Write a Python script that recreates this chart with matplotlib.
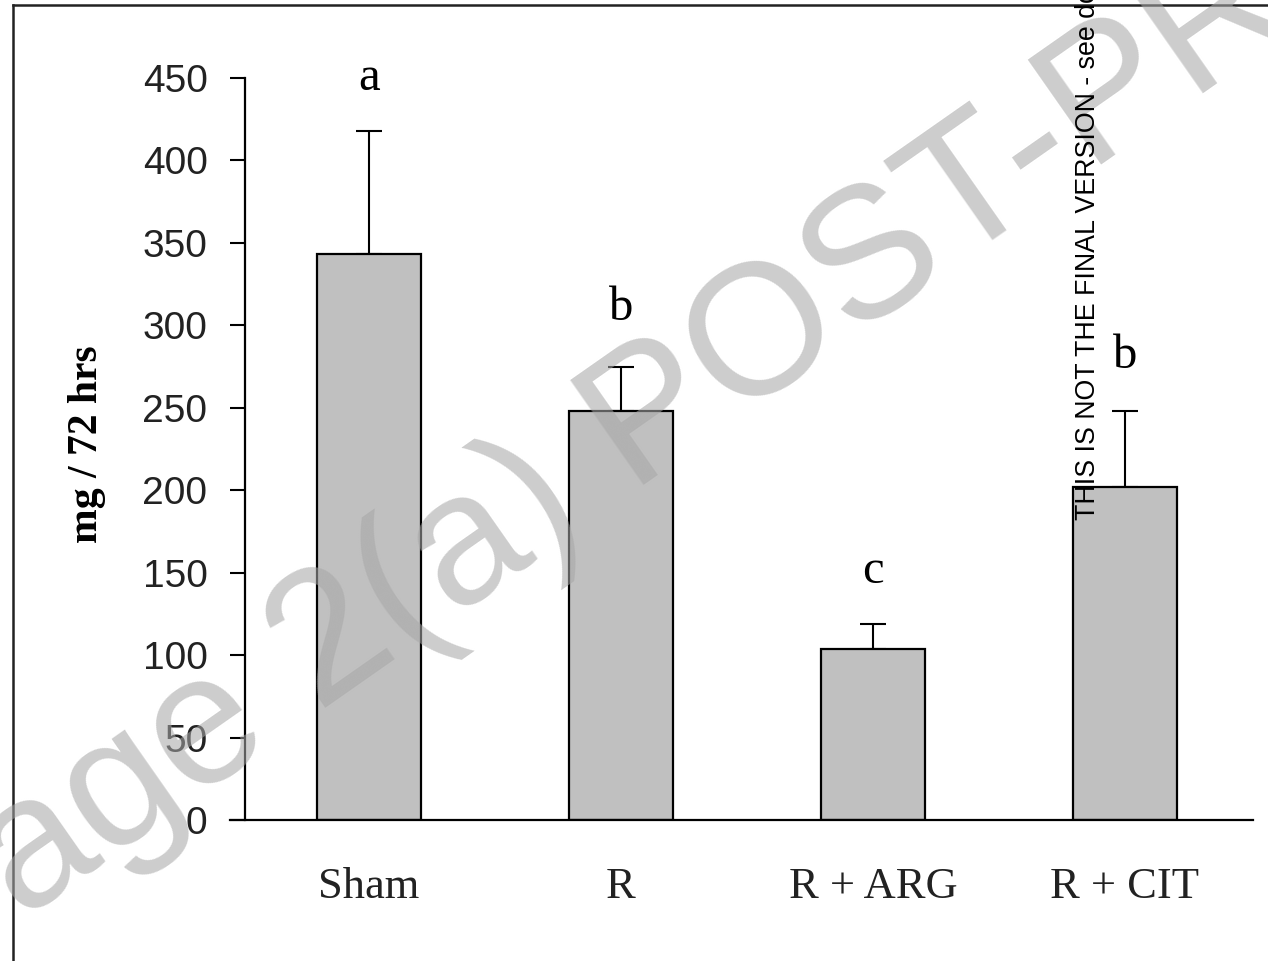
import matplotlib
matplotlib.use("Agg")
import matplotlib.pyplot as plt
from matplotlib.lines import Line2D

groups = ["Sham", "R", "R + ARG", "R + CIT"]
means = [343, 248, 104, 202]
errors = [75, 27, 15, 46]
letters = ["a", "b", "c", "b"]
letter_y = [443, 303, 144, 274]
yticks = [0, 50, 100, 150, 200, 250, 300, 350, 400, 450]

fig = plt.figure(figsize=(12.68, 9.61), dpi=100)
ax = fig.add_axes([245 / 1268, 1 - 820 / 961, (1253 - 245) / 1268, (820 - 78) / 961])

x = list(range(len(groups)))
ax.bar(x, means, width=0.41, color="#c0c0c0", edgecolor="black", linewidth=1.6, zorder=2)
ax.errorbar(x, means, yerr=[[0] * len(errors), errors], fmt="none", ecolor="black",
            elinewidth=1.5, capsize=9.5, capthick=1.5, zorder=1)

for xi, lab, ly in zip(x, letters, letter_y):
    ax.text(xi, ly, lab, ha="center", va="baseline", fontsize=35,
            family="Liberation Serif", color="black")

ax.set_xlim(-0.492, 3.508)
ax.set_ylim(0, 450)
ax.set_yticks(yticks)
ax.set_yticklabels([str(t) for t in yticks], family="Liberation Sans", fontsize=28, color="#222222")
ax.set_xticks(x)
ax.set_xticklabels(groups, family="Liberation Serif", fontsize=32, color="#222222")
ax.tick_params(axis="x", length=0, pad=34)
ax.tick_params(axis="y", length=11, width=1.5, direction="out", pad=16)
for s in ["top", "right"]:
    ax.spines[s].set_visible(False)
ax.spines["left"].set_linewidth(1.6)
ax.spines["bottom"].set_linewidth(1.6)
ax.spines["bottom"].set_bounds(-0.55, 3.508)
ax.set_ylabel("mg / 72 hrs", family="Liberation Serif", fontweight="bold", fontsize=30)
ax.yaxis.set_label_coords(-0.138, 0.506)

# page frame
fx = 13 / 1268
fy = 1 - 5 / 961
fig.add_artist(Line2D([fx, fx], [0, fy], transform=fig.transFigure, color="#222222", lw=1.8))
fig.add_artist(Line2D([fx, 1], [fy, fy], transform=fig.transFigure, color="#222222", lw=1.8))

# watermark
fig.text(-80 / 1268, 1 - 992 / 961, "Page 2(a) POST-PRINT", family="Liberation Sans", fontsize=134,
         color="#a7a7a7", alpha=0.57, rotation=35, rotation_mode="anchor",
         ha="left", va="baseline", zorder=10)

# side note
fig.text(1088 / 1268, 1 - 520 / 961, "THIS IS NOT THE FINAL VERSION - see doi:10.1016",
         family="Liberation Sans", fontsize=19.3, color="black", rotation=90,
         ha="center", va="bottom", zorder=11)

fig.savefig("out.png", dpi=100)
